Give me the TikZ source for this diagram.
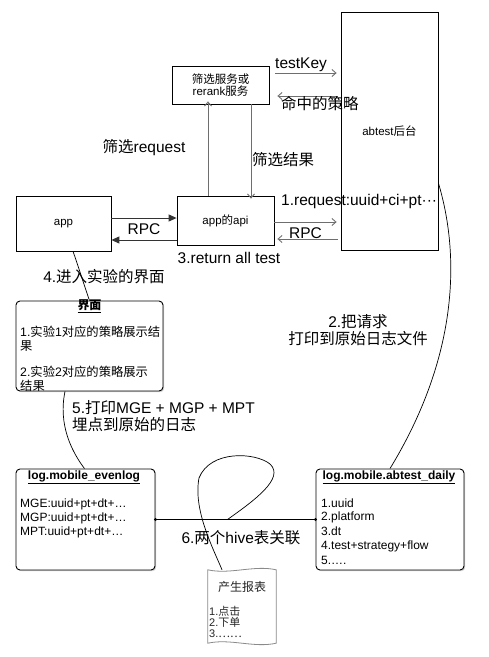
\documentclass[tikz,border=0pt]{standalone}
\usepackage{fontspec}
\setmainfont{Liberation Sans}
\newfontfamily\cjk{Noto Sans CJK SC}
\usetikzlibrary{arrows.meta,shadows}
\newcommand{\zhs}[1]{{\cjk #1}}
\definecolor{arrgray}{HTML}{6E6E6E}
\definecolor{docgray}{HTML}{8A8A8A}
\begin{document}
\begin{tikzpicture}[x=1pt,y=-1pt,
  plainbox/.style={draw=black,line width=0.8pt,inner sep=0pt,font=\fontsize{11.5}{11.5}\selectfont,align=center},
  roundbox/.style={draw=black,line width=0.9pt,rounded corners=4pt,fill=white,inner sep=0pt,
     drop shadow={shadow xshift=1.2pt,shadow yshift=-1.2pt,opacity=0.35}},
  lbl/.style={inner sep=0pt,font=\fontsize{15.5}{17.5}\selectfont},
  boxtxt/.style={inner sep=0pt,anchor=west,font=\fontsize{12}{14}\selectfont},
  uitxt/.style={inner sep=0pt,anchor=west,font=\fontsize{12.3}{14}\selectfont},
  doctxt/.style={inner sep=0pt,anchor=west,font=\fontsize{11}{12}\selectfont,text=black!85},
  grayarrow/.style={draw=arrgray,line width=0.9pt,-{Straight Barb[length=4pt,width=7pt]}},
  blackarrow/.style={draw=black!80,line width=1pt,-{Triangle[length=8pt,width=7pt]}},
  curveline/.style={draw=black,line width=0.7pt}
]
\useasboundingbox (0,0) rectangle (489,657);
\fill[white] (0,0) rectangle (489,657);

% boxes
\node[plainbox,minimum width=97pt,minimum height=238pt] (abtest) at (389.5,131) {abtest\zhs{后台}};
\node[plainbox,minimum width=97pt,minimum height=38pt] (rerank) at (220.5,85) {\zhs{筛选服务或}\\rerank\zhs{服务}};
\node[plainbox,minimum width=95pt,minimum height=55pt] (app) at (63.5,223.5) {app};
\node[plainbox,minimum width=97pt,minimum height=49pt] (api) at (225.5,220.5) {app\zhs{的}api};

\node[roundbox,minimum width=147pt,minimum height=90pt] (ui) at (89.5,346) {};
\node[roundbox,minimum width=139pt,minimum height=101pt] (evenlog) at (85.5,519.5) {};
\node[roundbox,minimum width=148pt,minimum height=101pt] (daily) at (390,519.5) {};
\node[inner sep=0pt,minimum width=68pt,minimum height=73pt] (doc) at (242,606.5) {};

% box contents
\node[inner sep=0pt,font=\fontsize{12}{14}\selectfont\bfseries] (uititle) at (89.5,306) {\underline{\zhs{界面}}};
\node[uitxt] (ui1) at (20,332) {1.\zhs{实验}1\zhs{对应的策略展示结}};
\node[uitxt] (ui2) at (20,346) {\zhs{果}};
\node[uitxt] (ui3) at (20,372) {2.\zhs{实验}2\zhs{对应的策略展示}};
\node[uitxt] (ui4) at (20,386) {\zhs{结果}};

\node[inner sep=0pt,font=\fontsize{12}{14}\selectfont\bfseries] (evtitle) at (84,477) {\underline{log.mobile\_evenlog}};
\node[boxtxt] (ev1) at (20,504) {MGE:uuid+pt+dt+\dots};
\node[boxtxt] (ev2) at (20,518) {MGP:uuid+pt+dt+\dots};
\node[boxtxt] (ev3) at (20,532) {MPT:uuid+pt+dt+\dots};

\node[inner sep=0pt,font=\fontsize{12}{14}\selectfont\bfseries] (dytitle) at (389,477) {\underline{log.mobile.abtest\_daily}};
\node[boxtxt] (dy1) at (321,503) {1.uuid};
\node[boxtxt] (dy2) at (321,517) {2.platform};
\node[boxtxt] (dy3) at (321,531) {3.dt};
\node[boxtxt] (dy4) at (321,546) {4.test+strategy+flow};
\node[boxtxt] (dy5) at (321,560) {5.\dots.};

% document shape
\draw[docgray,line width=0.8pt,fill=white]
  (doc.north west) .. controls ([xshift=22pt,yshift=-5pt]doc.north west) and ([xshift=-22pt,yshift=5pt]doc.north east) .. (doc.north east)
  -- (doc.south east)
  .. controls ([xshift=-22pt,yshift=-5pt]doc.south east) and ([xshift=22pt,yshift=5pt]doc.south west) .. (doc.south west)
  -- cycle;
\node[inner sep=0pt,font=\fontsize{12}{13}\selectfont,text=black!85] (doctitle) at (242,587) {\zhs{产生报表}};
\node[doctxt] (d1) at (209,611) {1.\zhs{点击}};
\node[doctxt] (d2) at (209,622) {2.\zhs{下单}};
\node[doctxt] (d3) at (209,634) {3.\zhs{……}};

% top arrows
\draw[grayarrow] ([xshift=6pt]rerank.east |- 0,73) -- ([xshift=-4pt]abtest.west |- 0,73);
\node[lbl,anchor=south west] (lk) at (275,72) {testKey};
\draw[grayarrow] ([xshift=-3pt]abtest.west |- 0,96) -- ([xshift=8pt]rerank.east |- 0,96);
\node[lbl,anchor=west] (lhit) at (281,104) {\zhs{命中的策略}};

\draw[grayarrow] (api.north -| 208,0) -- ([yshift=3pt]rerank.south -| 208,0);
\node[lbl] (lreq) at (144,148) {\zhs{筛选}request};
\draw[grayarrow] (rerank.south -| 251,0) -- ([yshift=-3pt]api.north -| 251,0);
\node[lbl,anchor=west] (lres) at (252,160) {\zhs{筛选结果}};

\draw[blackarrow] (app.east |- 0,218) -- (api.west |- 0,218);
\draw[blackarrow] (api.west |- 0,240) -- (app.east |- 0,240);
\node[lbl] (lrpc1) at (144,229) {RPC};

\draw[grayarrow] (api.east |- 0,222) -- ([xshift=-4pt]abtest.west |- 0,222);
\node[lbl,anchor=west] (lr1) at (281,201) {1.request:uuid+ci+pt\char"00B7\char"00B7\char"00B7};
\draw[grayarrow] ([xshift=-3pt]abtest.west |- 0,239) -- ([xshift=3pt]api.east |- 0,239);
\node[lbl] (lrpc2) at (305.5,233) {RPC};
\node[lbl] (lret) at (229,258) {3.return all test};

% curves
\draw[curveline] ([xshift=9.5pt]app.south) .. controls (79,268) and (84,285) .. (ui.north);
\node[lbl] (l4) at (104,277) {4.\zhs{进入实验的界面}};

\draw[curveline] ([xshift=-24.5pt]ui.south) .. controls (58,425) and (72,452) .. ([xshift=-1pt]evenlog.north);
\node[lbl,anchor=west,align=left] (l5) at (72,416) {5.\zhs{打印}MGE + MGP + MPT\\\zhs{埋点到原始的日志}};

\draw[curveline] (abtest.east |- 0,183) .. controls (462,262) and (455,362) .. (daily.north);
\node[lbl,align=center] (l2) at (358,330) {2.\zhs{把请求}\\\zhs{打印到原始日志文件}};

\draw[curveline] (evenlog.east) -- coordinate[pos=0.45] (mid) (daily.west);
\fill (evenlog.east) circle (1.6pt);
\fill (daily.west) circle (1.6pt);
\draw[curveline] (mid) .. controls (255,500) and (285,478) .. (270,464)
   .. controls (255,452) and (210,450) .. (199,478)
   .. controls (193,510) and (213,548) .. ([xshift=-20pt]doc.north);
\node[lbl] (l6) at (241,538) {6.\zhs{两个}hive\zhs{表关联}};
\end{tikzpicture}
\end{document}
